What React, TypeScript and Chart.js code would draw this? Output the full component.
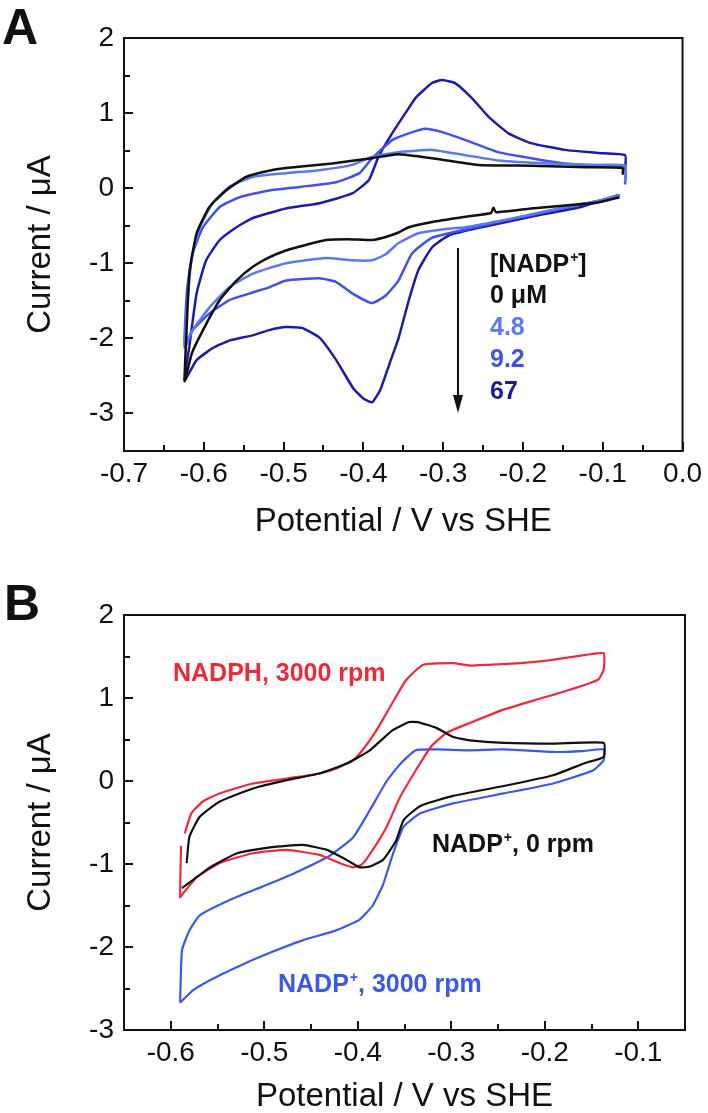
import React, { useEffect, useRef } from 'react';
import { Chart, registerables } from 'chart.js';

Chart.register(...registerables);

const FAMILY = "'Liberation Sans', Arial, Helvetica, sans-serif";
Chart.defaults.font.family = FAMILY;
Chart.defaults.color = '#111';

// ---------------- Panel A data ----------------
const aXTicks = [-0.7, -0.6, -0.5, -0.4, -0.3, -0.2, -0.1, 0.0];
const aXTickLabels = ['-0.7', '-0.6', '-0.5', '-0.4', '-0.3', '-0.2', '-0.1', '0.0'];
const aYTicks = [-3, -2, -1, 0, 1, 2];
const aYTickLabels = ['-3', '-2', '-1', '0', '1', '2'];
const aSeriesNames = ['0 μM', '4.8', '9.2', '67'];

const curveA0: [number, number][] = [
  [-0.079, -0.12], [-0.106, -0.19], [-0.147, -0.23], [-0.19, -0.27], [-0.234, -0.32], [-0.237, -0.26],
  [-0.24, -0.33], [-0.272, -0.38], [-0.314, -0.45], [-0.343, -0.52], [-0.356, -0.59], [-0.372, -0.65],
  [-0.389, -0.69], [-0.42, -0.68], [-0.447, -0.69], [-0.47, -0.75], [-0.497, -0.83], [-0.52, -0.93],
  [-0.539, -1.05], [-0.56, -1.24], [-0.58, -1.49], [-0.601, -1.89], [-0.615, -2.2], [-0.624, -2.57],
  [-0.622, -2.0], [-0.618, -1.13], [-0.609, -0.6], [-0.593, -0.25], [-0.572, -0.03], [-0.547, 0.15],
  [-0.52, 0.23], [-0.497, 0.27], [-0.439, 0.33], [-0.389, 0.4], [-0.36, 0.45], [-0.343, 0.44],
  [-0.314, 0.4], [-0.256, 0.31], [-0.19, 0.3], [-0.12, 0.28], [-0.075, 0.27], [-0.075, 0.18],
];
const curveA1: [number, number][] = [
  [-0.079, -0.09], [-0.106, -0.17], [-0.147, -0.25], [-0.19, -0.35], [-0.231, -0.44], [-0.272, -0.52],
  [-0.293, -0.54], [-0.331, -0.6], [-0.356, -0.73], [-0.372, -0.88], [-0.389, -0.96], [-0.414, -0.96],
  [-0.447, -0.93], [-0.497, -1.0], [-0.539, -1.14], [-0.568, -1.32], [-0.593, -1.59], [-0.614, -1.89],
  [-0.624, -2.12], [-0.621, -1.59], [-0.615, -0.92], [-0.605, -0.52], [-0.589, -0.2], [-0.568, 0.02],
  [-0.539, 0.15], [-0.497, 0.2], [-0.455, 0.24], [-0.414, 0.31], [-0.389, 0.42], [-0.356, 0.48],
  [-0.314, 0.51], [-0.272, 0.44], [-0.231, 0.37], [-0.168, 0.33], [-0.106, 0.31], [-0.072, 0.3],
  [-0.072, 0.08],
];
const curveA2: [number, number][] = [
  [-0.079, -0.09], [-0.106, -0.17], [-0.147, -0.26], [-0.19, -0.36], [-0.231, -0.45], [-0.272, -0.55],
  [-0.314, -0.66], [-0.339, -0.87], [-0.356, -1.23], [-0.372, -1.43], [-0.389, -1.53], [-0.414, -1.4],
  [-0.434, -1.25], [-0.455, -1.2], [-0.497, -1.23], [-0.518, -1.32], [-0.539, -1.39], [-0.568, -1.49],
  [-0.593, -1.67], [-0.614, -1.89], [-0.624, -2.09], [-0.621, -1.36], [-0.614, -0.87], [-0.601, -0.52],
  [-0.58, -0.25], [-0.555, -0.12], [-0.518, -0.03], [-0.477, 0.02], [-0.434, 0.08], [-0.405, 0.2],
  [-0.389, 0.4], [-0.364, 0.64], [-0.343, 0.73], [-0.322, 0.79], [-0.302, 0.75], [-0.272, 0.64],
  [-0.231, 0.48], [-0.19, 0.4], [-0.147, 0.33], [-0.106, 0.3], [-0.072, 0.29], [-0.072, 0.05],
];
const curveA3: [number, number][] = [
  [-0.079, -0.09], [-0.127, -0.25], [-0.19, -0.38], [-0.252, -0.52], [-0.293, -0.63], [-0.314, -0.79],
  [-0.331, -1.09], [-0.343, -1.49], [-0.356, -2.0], [-0.366, -2.3], [-0.379, -2.69], [-0.389, -2.85],
  [-0.4, -2.8], [-0.413, -2.66], [-0.434, -2.29], [-0.455, -1.99], [-0.477, -1.86], [-0.497, -1.85],
  [-0.518, -1.89], [-0.539, -1.96], [-0.568, -2.03], [-0.589, -2.13], [-0.609, -2.29], [-0.624, -2.56],
  [-0.618, -2.1], [-0.609, -1.4], [-0.597, -0.96], [-0.58, -0.69], [-0.559, -0.52], [-0.539, -0.4],
  [-0.497, -0.27], [-0.455, -0.2], [-0.414, -0.07], [-0.393, 0.11], [-0.381, 0.42], [-0.364, 0.73],
  [-0.343, 1.07], [-0.334, 1.21], [-0.314, 1.4], [-0.302, 1.44], [-0.285, 1.4], [-0.264, 1.2],
  [-0.243, 0.95], [-0.218, 0.73], [-0.19, 0.6], [-0.147, 0.51], [-0.106, 0.47], [-0.072, 0.44],
  [-0.072, 0.24],
];

// ---------------- Panel B data ----------------
const bXTicks = [-0.6, -0.5, -0.4, -0.3, -0.2, -0.1];
const bXTickLabels = ['-0.6', '-0.5', '-0.4', '-0.3', '-0.2', '-0.1'];
const bYTicks = [-3, -2, -1, 0, 1, 2];
const bYTickLabels = ['-3', '-2', '-1', '0', '1', '2'];
const bSeriesNames = ['NADP⁺, 0 rpm', 'NADPH, 3000 rpm', 'NADP⁺, 3000 rpm'];

const curveB0: [number, number][] = [
  [-0.583, -0.99], [-0.58, -0.67], [-0.569, -0.43], [-0.548, -0.25], [-0.512, -0.09], [-0.476, 0.01],
  [-0.441, 0.09], [-0.412, 0.21], [-0.387, 0.37], [-0.363, 0.61], [-0.345, 0.71], [-0.336, 0.71],
  [-0.316, 0.64], [-0.298, 0.53], [-0.28, 0.49], [-0.244, 0.46], [-0.191, 0.45], [-0.137, 0.46],
  [-0.137, 0.29], [-0.156, 0.22], [-0.191, 0.07], [-0.244, -0.06], [-0.298, -0.18], [-0.333, -0.3],
  [-0.351, -0.47], [-0.359, -0.72], [-0.373, -0.95], [-0.387, -1.03], [-0.398, -1.04], [-0.412, -0.95],
  [-0.433, -0.83], [-0.459, -0.77], [-0.494, -0.8], [-0.529, -0.87], [-0.558, -1.04], [-0.576, -1.19],
  [-0.588, -1.29],
];
const curveB1: [number, number][] = [
  [-0.585, -0.63], [-0.578, -0.39], [-0.566, -0.25], [-0.548, -0.15], [-0.512, -0.03], [-0.476, 0.03],
  [-0.441, 0.09], [-0.423, 0.15], [-0.405, 0.25], [-0.395, 0.37], [-0.38, 0.61], [-0.363, 0.94],
  [-0.348, 1.22], [-0.33, 1.4], [-0.298, 1.42], [-0.28, 1.39], [-0.26, 1.4], [-0.226, 1.42],
  [-0.191, 1.46], [-0.156, 1.52], [-0.137, 1.54], [-0.137, 1.34], [-0.143, 1.22], [-0.173, 1.1],
  [-0.209, 0.98], [-0.244, 0.86], [-0.28, 0.7], [-0.305, 0.58], [-0.322, 0.41], [-0.34, 0.09],
  [-0.355, -0.2], [-0.369, -0.55], [-0.384, -0.83], [-0.395, -1.0], [-0.405, -1.04], [-0.419, -0.99],
  [-0.441, -0.89], [-0.476, -0.83], [-0.512, -0.87], [-0.548, -0.99], [-0.572, -1.16], [-0.588, -1.37],
  [-0.59, -1.4], [-0.589, -0.78],
];
const curveB2: [number, number][] = [
  [-0.59, -2.67], [-0.588, -2.04], [-0.58, -1.8], [-0.569, -1.62], [-0.534, -1.42], [-0.497, -1.25],
  [-0.462, -1.08], [-0.43, -0.9], [-0.405, -0.68], [-0.387, -0.35], [-0.369, 0.0], [-0.355, 0.2],
  [-0.338, 0.37], [-0.316, 0.38], [-0.28, 0.37], [-0.244, 0.38], [-0.191, 0.35], [-0.16, 0.36],
  [-0.137, 0.38], [-0.137, 0.25], [-0.148, 0.13], [-0.191, -0.03], [-0.244, -0.15], [-0.298, -0.27],
  [-0.333, -0.39], [-0.351, -0.55], [-0.363, -0.9], [-0.373, -1.25], [-0.384, -1.5], [-0.398, -1.67],
  [-0.423, -1.8], [-0.459, -1.92], [-0.494, -2.07], [-0.529, -2.24], [-0.558, -2.4], [-0.576, -2.52],
  [-0.59, -2.67],
];

// ---------------- helpers ----------------
const toPts = (c: [number, number][]) => c.map(([x, y]) => ({ x, y }));
const mids = (arr: number[]) => arr.slice(1).map((v, i) => (v + arr[i]) / 2);

type Part = { t: string; sup?: boolean };
function drawRich(ctx: CanvasRenderingContext2D, x: number, y: number, parts: Part[], size: number, color: string) {
  ctx.fillStyle = color;
  ctx.textBaseline = 'alphabetic';
  ctx.textAlign = 'left';
  let cx = x;
  for (const p of parts) {
    if (p.sup) {
      ctx.font = `bold ${Math.round(size * 0.55)}px ${FAMILY}`;
      ctx.fillText(p.t, cx + 1, y - size * 0.42);
      cx += ctx.measureText(p.t).width + 1;
    } else {
      ctx.font = `bold ${size}px ${FAMILY}`;
      ctx.fillText(p.t, cx, y);
      cx += ctx.measureText(p.t).width;
    }
  }
}

function drawFrameTicks(chart: any, xMajor: number[], yMajor: number[], xMinor: number[], yMinor: number[]) {
  const { ctx, chartArea: a, scales } = chart;
  ctx.save();
  ctx.strokeStyle = '#111';
  ctx.lineWidth = 2;
  ctx.strokeRect(a.left, a.top, a.right - a.left, a.bottom - a.top);
  ctx.beginPath();
  const xt = (v: number, len: number) => {
    const p = Math.round(scales.x.getPixelForValue(v));
    ctx.moveTo(p, a.bottom);
    ctx.lineTo(p, a.bottom - len);
  };
  const yt = (v: number, len: number) => {
    const p = Math.round(scales.y.getPixelForValue(v));
    ctx.moveTo(a.left, p);
    ctx.lineTo(a.left + len, p);
  };
  xMajor.forEach((v) => xt(v, 9));
  xMinor.forEach((v) => xt(v, 6));
  yMajor.forEach((v) => yt(v, 9));
  yMinor.forEach((v) => yt(v, 6));
  ctx.stroke();
  ctx.restore();
}

function makeScales(o: {
  xMin: number; xMax: number; yMin: number; yMax: number;
  xTicks: number[]; xLabels: string[]; yTicks: number[]; yLabels: string[];
  xAxisHeight: number; xTitlePad: number;
}) {
  return {
    x: {
      type: 'linear',
      min: o.xMin,
      max: o.xMax,
      afterBuildTicks: (s: any) => { s.ticks = o.xTicks.map((v) => ({ value: v })); },
      afterFit: (s: any) => { s.height = o.xAxisHeight; },
      ticks: {
        callback: (_v: any, i: number) => o.xLabels[i],
        font: { size: 28 },
        color: '#111',
        padding: 6,
        autoSkip: false,
        maxRotation: 0,
        minRotation: 0,
      },
      grid: { display: false, drawTicks: false },
      border: { display: false },
      title: {
        display: true,
        text: 'Potential / V vs SHE',
        color: '#111',
        font: { size: 33, lineHeight: 1 },
        padding: { top: 0, bottom: o.xTitlePad },
      },
    },
    y: {
      type: 'linear',
      min: o.yMin,
      max: o.yMax,
      afterBuildTicks: (s: any) => { s.ticks = o.yTicks.map((v) => ({ value: v })); },
      afterFit: (s: any) => { s.width = 124; },
      ticks: {
        callback: (_v: any, i: number) => o.yLabels[i],
        font: { size: 28 },
        color: '#111',
        padding: 10,
        autoSkip: false,
      },
      grid: { display: false, drawTicks: false },
      border: { display: false },
      title: {
        display: true,
        text: 'Current / μA',
        color: '#111',
        font: { size: 33, lineHeight: 1 },
        padding: { top: 24, bottom: 0 },
      },
    },
  };
}

const ds = (label: string, c: [number, number][], color: string, w: number) => ({
  label,
  data: toPts(c),
  borderColor: color,
  backgroundColor: color,
  borderWidth: w,
  pointRadius: 0,
  showLine: true,
  fill: false,
  tension: 0.15,
});

function configA(): any {
  const plugin = {
    id: 'decorA',
    afterDatasetsDraw(chart: any) {
      drawFrameTicks(chart, aXTicks, aYTicks, mids(aXTicks), [-2.5, -1.5, -0.5, 0.5, 1.5]);
      const ctx: CanvasRenderingContext2D = chart.ctx;
      ctx.save();
      // panel letter
      ctx.fillStyle = '#111';
      ctx.font = `bold 50px ${FAMILY}`;
      ctx.textBaseline = 'alphabetic';
      ctx.textAlign = 'left';
      ctx.fillText('A', 2, 44);
      // arrow
      ctx.strokeStyle = '#111';
      ctx.lineWidth = 2;
      ctx.beginPath();
      ctx.moveTo(458, 248);
      ctx.lineTo(458, 398);
      ctx.stroke();
      ctx.beginPath();
      ctx.moveTo(453, 395);
      ctx.lineTo(463, 395);
      ctx.lineTo(458, 413);
      ctx.closePath();
      ctx.fill();
      // legend text
      drawRich(ctx, 490, 272, [{ t: '[NADP' }, { t: '+', sup: true }, { t: ']' }], 25, '#111');
      drawRich(ctx, 490, 303, [{ t: aSeriesNames[0] }], 25, '#111');
      drawRich(ctx, 490, 335, [{ t: aSeriesNames[1] }], 25, '#5b7af0');
      drawRich(ctx, 490, 367, [{ t: aSeriesNames[2] }], 25, '#3e50ee');
      drawRich(ctx, 490, 399, [{ t: aSeriesNames[3] }], 25, '#1a1aa0');
      ctx.restore();
    },
  };
  return {
    type: 'scatter',
    data: {
      datasets: [
        ds(aSeriesNames[0], curveA0, '#111111', 2.5),
        ds(aSeriesNames[1], curveA1, '#5a78f0', 2.5),
        ds(aSeriesNames[2], curveA2, '#3f52ee', 2.5),
        ds(aSeriesNames[3], curveA3, '#1c1ca6', 2.5),
      ],
    },
    options: {
      responsive: false,
      animation: false,
      devicePixelRatio: 1,
      layout: { padding: { left: 0, top: 38, right: 23, bottom: 0 } },
      plugins: { legend: { display: false }, tooltip: { enabled: false } },
      scales: makeScales({
        xMin: -0.7, xMax: 0, yMin: -3.5, yMax: 2,
        xTicks: aXTicks, xLabels: aXTickLabels, yTicks: aYTicks, yLabels: aYTickLabels,
        xAxisHeight: 105, xTitlePad: 18,
      }),
    },
    plugins: [plugin],
  };
}

function configB(): any {
  const plugin = {
    id: 'decorB',
    afterDatasetsDraw(chart: any) {
      drawFrameTicks(chart, bXTicks, bYTicks, mids(bXTicks), [-2.5, -1.5, -0.5, 0.5, 1.5]);
      const ctx: CanvasRenderingContext2D = chart.ctx;
      ctx.save();
      ctx.fillStyle = '#111';
      ctx.font = `bold 50px ${FAMILY}`;
      ctx.textBaseline = 'alphabetic';
      ctx.textAlign = 'left';
      ctx.fillText('B', 4, 64);
      drawRich(ctx, 173, 125, [{ t: 'NADPH, 3000 rpm' }], 25, '#ee2a38');
      drawRich(ctx, 432, 296, [{ t: 'NADP' }, { t: '+', sup: true }, { t: ', 0 rpm' }], 25, '#111');
      drawRich(ctx, 278, 436, [{ t: 'NADP' }, { t: '+', sup: true }, { t: ', 3000 rpm' }], 25, '#3a57ee');
      ctx.restore();
    },
  };
  return {
    type: 'scatter',
    data: {
      datasets: [
        ds(bSeriesNames[0], curveB0, '#111111', 2.2),
        ds(bSeriesNames[1], curveB1, '#ef2b3a', 2.2),
        ds(bSeriesNames[2], curveB2, '#3a57ee', 2.2),
      ],
    },
    options: {
      responsive: false,
      animation: false,
      devicePixelRatio: 1,
      layout: { padding: { left: 0, top: 59, right: 23, bottom: 0 } },
      plugins: { legend: { display: false }, tooltip: { enabled: false } },
      scales: makeScales({
        xMin: -0.65, xMax: -0.05, yMin: -3, yMax: 2,
        xTicks: bXTicks, xLabels: bXTickLabels, yTicks: bYTicks, yLabels: bYTickLabels,
        xAxisHeight: 83, xTitlePad: 0,
      }),
    },
    plugins: [plugin],
  };
}

export default function App() {
  const refA = useRef<HTMLCanvasElement>(null);
  const refB = useRef<HTMLCanvasElement>(null);
  useEffect(() => {
    const cA = new Chart(refA.current as HTMLCanvasElement, configA());
    const cB = new Chart(refB.current as HTMLCanvasElement, configB());
    return () => {
      cA.destroy();
      cB.destroy();
    };
  }, []);
  return (
    <div style={{ position: 'absolute', left: 0, top: 0, width: 708, height: 1113, background: '#fff' }}>
      <canvas ref={refA} width={708} height={556} style={{ position: 'absolute', left: 0, top: 0 }} />
      <canvas ref={refB} width={708} height={557} style={{ position: 'absolute', left: 0, top: 556 }} />
    </div>
  );
}
